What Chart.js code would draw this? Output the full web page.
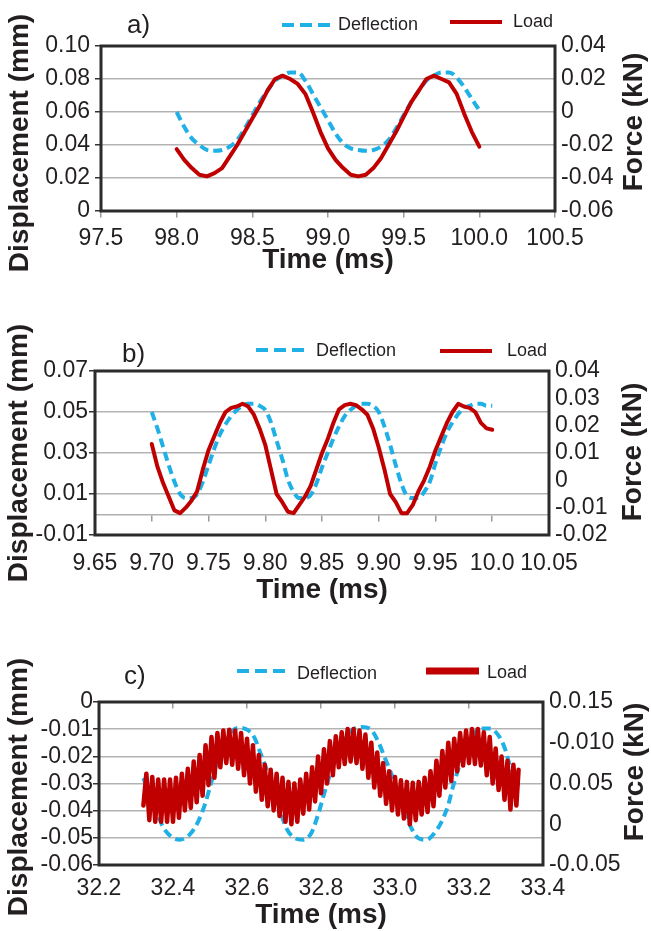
<!DOCTYPE html>
<html><head><meta charset="utf-8">
<script src="https://cdn.jsdelivr.net/npm/chart.js@4.4.1/dist/chart.umd.min.js"></script>
<style>
html,body{margin:0;padding:0;background:#fff;width:651px;height:931px;overflow:hidden}
canvas{position:absolute;left:0}
</style></head><body>
<canvas id="ca" style="top:0px"></canvas>
<canvas id="cb" style="top:300px"></canvas>
<canvas id="cc" style="top:620px"></canvas>
<script>
// ---------------- DATA ----------------
// Panel a)
const timeA = [98.00,98.05,98.10,98.15,98.20,98.25,98.30,98.35,98.40,98.45,98.50,98.55,98.60,98.65,98.70,98.75,98.80,98.85,98.90,98.95,99.00,99.05,99.10,99.15,99.20,99.25,99.30,99.35,99.40,99.45,99.50,99.55,99.60,99.65,99.70,99.75,99.80,99.85,99.90,99.95,100.00];
const deflA = [0.060,0.051,0.044,0.040,0.037,0.0365,0.037,0.039,0.043,0.050,0.058,0.066,0.073,0.079,0.082,0.084,0.084,0.079,0.071,0.063,0.055,0.047,0.041,0.038,0.037,0.0365,0.037,0.039,0.043,0.050,0.058,0.066,0.073,0.079,0.082,0.084,0.084,0.081,0.075,0.068,0.061];
const loadA = [-0.0225,-0.029,-0.034,-0.038,-0.039,-0.037,-0.034,-0.027,-0.020,-0.012,-0.004,0.004,0.013,0.020,0.022,0.020,0.017,0.011,0.000,-0.012,-0.022,-0.029,-0.034,-0.038,-0.039,-0.038,-0.034,-0.028,-0.020,-0.012,-0.003,0.006,0.013,0.020,0.022,0.020,0.018,0.011,-0.001,-0.012,-0.021];
const xTicksA = ["97.5","98.0","98.5","99.0","99.5","100.0","100.5"];
const yTicksA = ["0","0.02","0.04","0.06","0.08","0.10"];
const y2TicksA = ["-0.06","-0.04","-0.02","0","0.02","0.04"];

// Panel b)
const timeB = [9.700,9.705,9.710,9.715,9.720,9.725,9.730,9.735,9.740,9.745,
9.750,9.755,9.760,9.765,9.770,9.775,9.780,9.785,9.790,9.795,
9.800,9.805,9.810,9.815,9.820,9.825,9.830,9.835,9.840,9.845,
9.850,9.855,9.860,9.865,9.870,9.875,9.880,9.885,9.890,9.895,
9.900,9.905,9.910,9.915,9.920,9.925,9.930,9.935,9.940,9.945,
9.950,9.955,9.960,9.965,9.970,9.975,9.980,9.985,9.990,9.995,10.000];
const deflB = [0.050,0.042,0.033,0.024,0.016,0.010,0.008,0.008,0.010,0.016,
0.024,0.032,0.039,0.044,0.048,0.051,0.053,0.054,0.054,0.053,
0.051,0.045,0.036,0.027,0.017,0.011,0.008,0.008,0.0095,0.015,
0.023,0.030,0.037,0.043,0.048,0.051,0.053,0.054,0.054,0.053,
0.050,0.043,0.034,0.024,0.015,0.009,0.008,0.008,0.011,0.016,
0.025,0.033,0.040,0.045,0.049,0.052,0.053,0.054,0.054,0.053,0.053];
const loadB = [0.0133,0.005,-0.001,-0.006,-0.011,-0.012,-0.010,-0.0075,-0.004,0.004,
0.011,0.016,0.021,0.025,0.0265,0.027,0.028,0.027,0.024,0.019,
0.013,0.004,-0.005,-0.008,-0.0115,-0.012,-0.009,-0.006,-0.002,0.004,
0.010,0.015,0.021,0.026,0.0275,0.028,0.0275,0.026,0.024,0.019,
0.012,0.004,-0.005,-0.008,-0.012,-0.012,-0.009,-0.004,0.000,0.005,
0.011,0.016,0.021,0.025,0.028,0.027,0.0265,0.025,0.021,0.019,0.0185];
const xTicksB = ["9.65","9.70","9.75","9.80","9.85","9.90","9.95","10.0","10.05"];
const yTicksB = ["-0.01","0.01","0.03","0.05","0.07"];
const y2TicksB = ["-0.02","-0.01","0","0.01","0.02","0.03","0.04"];

// Panel c)
const timeCdefl = [32.320,32.340,32.360,32.375,32.395,32.418,32.445,32.468,32.486,32.504,32.522,32.540,32.562,32.580,32.603,32.621,32.634,32.652,32.670,32.690,32.706,32.728,32.751,32.774,32.792,32.810,32.824,32.850,32.878,32.910,32.937,32.955,32.973,32.991,33.010,33.025,33.040,33.062,33.085,33.107,33.126,33.144,33.158,33.175,33.202,33.229,33.256,33.279,33.297,33.310,33.324,33.334];
const deflC = [-0.028,-0.035,-0.042,-0.0465,-0.0495,-0.0507,-0.0488,-0.044,-0.0378,-0.0293,-0.0207,-0.0147,-0.0104,-0.0095,-0.0104,-0.0134,-0.018,-0.0244,-0.0315,-0.040,-0.0464,-0.050,-0.0507,-0.0482,-0.0415,-0.033,-0.0268,-0.0171,-0.011,-0.0092,-0.0104,-0.0147,-0.0207,-0.0268,-0.034,-0.040,-0.0452,-0.050,-0.0507,-0.0482,-0.044,-0.0378,-0.0305,-0.0232,-0.0147,-0.0098,-0.0098,-0.0122,-0.0171,-0.0232,-0.028,-0.031];
const timeCload = [32.320,32.328,32.336,32.344,32.352,32.360,32.368,32.376,32.384,32.392,
32.400,32.408,32.416,32.424,32.432,32.440,32.448,32.456,32.464,32.472,
32.480,32.488,32.496,32.504,32.512,32.520,32.528,32.536,32.544,32.552,
32.560,32.568,32.576,32.584,32.592,32.600,32.608,32.616,32.624,32.632,
32.640,32.648,32.656,32.664,32.672,32.680,32.688,32.696,32.704,32.712,
32.720,32.728,32.736,32.744,32.752,32.760,32.768,32.776,32.784,32.792,
32.800,32.808,32.816,32.824,32.832,32.840,32.848,32.856,32.864,32.872,
32.880,32.888,32.896,32.904,32.912,32.920,32.928,32.936,32.944,32.952,
32.960,32.968,32.976,32.984,32.992,33.000,33.008,33.016,33.024,33.032,
33.040,33.048,33.056,33.064,33.072,33.080,33.088,33.096,33.104,33.112,
33.120,33.128,33.136,33.144,33.152,33.160,33.168,33.176,33.184,33.192,
33.200,33.208,33.216,33.224,33.232,33.240,33.248,33.256,33.264,33.272,
33.280,33.288,33.296,33.304,33.312,33.320,33.328,33.334];
const loadC = [0.023,0.062,0.005,0.058,0.003,0.055,0.003,0.055,0.003,0.055,
0.003,0.057,0.008,0.062,0.017,0.068,0.020,0.077,0.027,0.085,
0.035,0.097,0.048,0.107,0.057,0.112,0.070,0.115,0.075,0.116,
0.073,0.115,0.068,0.112,0.060,0.105,0.050,0.097,0.040,0.085,
0.030,0.073,0.022,0.067,0.017,0.062,0.010,0.057,0.003,0.052,
0.000,0.050,0.003,0.055,0.013,0.062,0.018,0.070,0.028,0.083,
0.038,0.092,0.050,0.102,0.060,0.108,0.070,0.113,0.074,0.117,
0.077,0.117,0.075,0.115,0.068,0.110,0.057,0.100,0.045,0.088,
0.035,0.075,0.025,0.065,0.017,0.058,0.012,0.054,0.007,0.052,
0.000,0.051,0.005,0.052,0.012,0.057,0.015,0.065,0.022,0.078,
0.035,0.090,0.045,0.100,0.053,0.105,0.065,0.112,0.072,0.115,
0.075,0.117,0.074,0.117,0.072,0.113,0.060,0.107,0.050,0.093,
0.042,0.083,0.030,0.078,0.018,0.073,0.023,0.067];
const xTicksC = ["32.2","32.4","32.6","32.8","33.0","33.2","33.4"];
const yTicksC = ["-0.06","-0.05","-0.04","-0.03","-0.02","-0.01","0"];
const y2TicksC = ["-0.0.05","0","0.0.05","-0.010","0.0.15"];

const seriesNames = ["Deflection","Load"];
const panelLabels = ["a)","b)","c)"];
const xTitle = "Time (ms)";
const yTitle = "Displacement (mm)";
const y2Title = "Force (kN)";

// ---------------- STYLE / LAYOUT ----------------
const BLUE = '#1fb0e6';
const RED = '#c00000';
const INK = '#231f20';
const FONT = "'Liberation Sans', Arial, Helvetica, sans-serif";

function pts(xs, ys){ return xs.map((x,i)=>({x:x, y:ys[i]})); }

const decor = {
  id:'decor',
  afterDraw(chart, args, o){
    const ctx = chart.ctx, a = chart.chartArea, off = o.off;
    ctx.save();
    ctx.strokeStyle = '#2b2b2b'; ctx.lineWidth = 3;
    ctx.strokeRect(a.left, a.top, a.right-a.left, a.bottom-a.top);
    ctx.fillStyle = INK;
    ctx.font = '26px ' + FONT; ctx.textAlign='left'; ctx.textBaseline='middle';
    ctx.fillText(o.label, o.labelPos[0], o.labelPos[1]-off);
    const L = o.legend;
    ctx.lineCap='butt';
    ctx.strokeStyle = BLUE; ctx.lineWidth = 4; ctx.setLineDash([12,6]);
    ctx.beginPath(); ctx.moveTo(L.b[0], L.b[2]-off); ctx.lineTo(L.b[1], L.b[2]-off); ctx.stroke();
    ctx.setLineDash([]);
    ctx.strokeStyle = RED; ctx.lineWidth = L.rw;
    ctx.beginPath(); ctx.moveTo(L.r[0], L.r[2]-off); ctx.lineTo(L.r[1], L.r[2]-off); ctx.stroke();
    ctx.font = '18px ' + FONT; ctx.textBaseline='middle';
    ctx.fillText(seriesNames[0], L.bt[0], L.bt[1]-off);
    ctx.fillText(seriesNames[1], L.rt[0], L.rt[1]-off);
    ctx.font = 'bold 28px ' + FONT; ctx.textAlign='center'; ctx.textBaseline='middle';
    ctx.fillText(xTitle, o.xt[0], o.xt[1]-off);
    ctx.save(); ctx.translate(o.yt[0], o.yt[1]-off); ctx.rotate(-Math.PI/2); ctx.fillText(yTitle,0,0); ctx.restore();
    ctx.save(); ctx.translate(o.y2t[0], o.y2t[1]-off); ctx.rotate(-Math.PI/2); ctx.fillText(y2Title,0,0); ctx.restore();
    ctx.restore();
  }
};

function makePanel(c){
  const cv = document.getElementById(c.id);
  cv.width = 651; cv.height = c.h;
  const off = c.top, A = c.area;
  const tickFont = {family: FONT, size: 23};
  new Chart(cv, {
    type:'line',
    data:{datasets:[
      {label:seriesNames[1], data:pts(c.tl, c.load), yAxisID:'y2', borderColor:RED, borderWidth:c.redW, pointRadius:0, tension:0, borderJoinStyle:'round', borderCapStyle:'round', order:1},
      {label:seriesNames[0], data:pts(c.td, c.defl), yAxisID:'y', borderColor:BLUE, borderWidth:4, borderDash:[9,5], pointRadius:0, cubicInterpolationMode:'monotone', order:2}
    ]},
    options:{
      responsive:false, animation:false, devicePixelRatio:1,
      layout:{padding:{top:A.t-off, left:0, right:0, bottom:0}},
      plugins:{legend:{display:false}, tooltip:{enabled:false}, decor:{off:off, label:c.label, labelPos:c.labelPos, legend:c.legend, xt:c.xt, yt:c.yt, y2t:c.y2t}},
      scales:{
        x:{type:'linear', position:'bottom', min:c.xr[0], max:c.xr[1],
           grid:{display:false, drawTicks:false}, border:{display:false},
           ticks:{stepSize:c.xr[2], autoSkip:false, maxRotation:0, padding:c.xpad, font:tickFont, color:INK, callback:(v,i)=>c.xl[i]},
           afterFit:s=>{s.height = c.h-(A.b-off);}},
        x2:{type:'linear', position:{y:0}, min:c.xr[0], max:c.xr[1],
           grid:{drawOnChartArea:false, drawTicks:true, tickLength:6, tickColor:'#9a9a9a', lineWidth:1.5},
           border:{display:true, color:'#b0b0b0', width:1.5},
           ticks:{display:false, stepSize:c.xr[2], autoSkip:false}},
        y:{type:'linear', position:'left', min:c.yr[0], max:c.yr[1],
           grid:{color:'#b3b3b3', lineWidth:1.5, drawTicks:true, tickLength:6, tickColor:'#333'}, border:{display:false},
           ticks:{stepSize:c.yr[2], autoSkip:false, padding:c.ypad, font:tickFont, color:INK, callback:(v,i)=>c.yl[i]},
           afterFit:s=>{s.width = A.l;}},
        y2:{type:'linear', position:'right', min:c.y2r[0], max:c.y2r[1],
           grid:{drawOnChartArea:false, drawTicks:false}, border:{display:false},
           ticks:{stepSize:c.y2r[2], autoSkip:false, padding:6, font:tickFont, color:INK, callback:(v,i)=>c.y2l[i]},
           afterFit:s=>{s.width = 651-A.r;}}
      }
    },
    plugins:[decor]
  });
}

makePanel({id:'ca', top:0, h:300, area:{l:101,r:555,t:46,b:211},
  tl:timeA, load:loadA, td:timeA, defl:deflA, redW:4,
  xr:[97.5,100.5,0.5], xl:xTicksA, yr:[0,0.10,0.02], yl:yTicksA, y2r:[-0.06,0.04,0.02], y2l:y2TicksA,
  xpad:14, ypad:5, label:panelLabels[0], labelPos:[127,26],
  legend:{b:[282,330,25], bt:[338,25], r:[450,502,22], rt:[513,22], rw:4},
  xt:[328,260], yt:[20,143], y2t:[634,122]});

makePanel({id:'cb', top:300, h:320, area:{l:95,r:549,t:371,b:535},
  tl:timeB, load:loadB, td:timeB, defl:deflB, redW:4,
  xr:[9.65,10.05,0.05], xl:xTicksB, yr:[-0.01,0.07,0.02], yl:yTicksB, y2r:[-0.02,0.04,0.01], y2l:y2TicksB,
  xpad:15, ypad:1, label:panelLabels[1], labelPos:[122,355],
  legend:{b:[256,305,350], bt:[316,351], r:[440,492,351], rt:[507,351], rw:4},
  xt:[322,590], yt:[19,453], y2t:[633,452]});

makePanel({id:'cc', top:620, h:311, area:{l:99,r:543,t:702,b:865},
  tl:timeCload, load:loadC, td:timeCdefl, defl:deflC, redW:4.5,
  xr:[32.2,33.4,0.2], xl:xTicksC, yr:[-0.06,0,0.01], yl:yTicksC, y2r:[-0.05,0.15,0.05], y2l:y2TicksC,
  xpad:10, ypad:0, label:panelLabels[2], labelPos:[124,677],
  legend:{b:[237,285,671], bt:[297,674], r:[426,479,671], rt:[487,673], rw:7},
  xt:[321,915], yt:[19,787], y2t:[635,772]});
</script>
</body></html>
